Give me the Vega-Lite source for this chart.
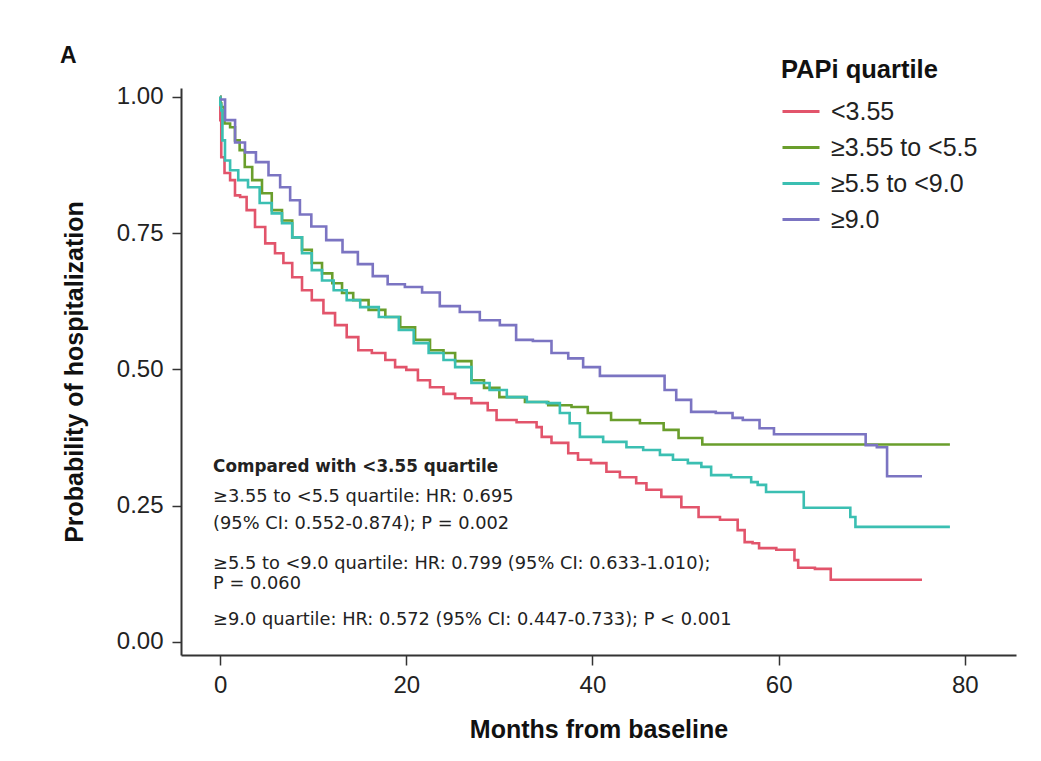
{
  "$schema": "https://vega.github.io/schema/vega-lite/v6.json",
  "autosize": {"type": "none"},
  "padding": {"left": 181, "top": 88, "right": 25, "bottom": 106},
  "width": 835,
  "height": 567,
  "background": "#ffffff",
  "config": {
    "view": {"stroke": null},
    "font": "Liberation Sans"
  },
  "title": {
    "text": "A",
    "anchor": "start",
    "frame": "group",
    "dx": -121,
    "dy": 36,
    "offset": 26,
    "fontSize": 23,
    "font": "Liberation Sans",
    "fontWeight": "bold",
    "color": "#111111"
  },
  "datasets": {
    "km": [
      {"group": "<3.55", "month": 0, "prob": 1.0},
      {"group": "<3.55", "month": 0.05, "prob": 0.957},
      {"group": "<3.55", "month": 0.2, "prob": 0.889},
      {"group": "<3.55", "month": 0.75, "prob": 0.86},
      {"group": "<3.55", "month": 1.4, "prob": 0.847},
      {"group": "<3.55", "month": 1.8, "prob": 0.819},
      {"group": "<3.55", "month": 2.5, "prob": 0.816},
      {"group": "<3.55", "month": 3.2, "prob": 0.792},
      {"group": "<3.55", "month": 4.3, "prob": 0.761},
      {"group": "<3.55", "month": 5.4, "prob": 0.731},
      {"group": "<3.55", "month": 6.4, "prob": 0.713},
      {"group": "<3.55", "month": 7.2, "prob": 0.695},
      {"group": "<3.55", "month": 8.3, "prob": 0.669},
      {"group": "<3.55", "month": 9.3, "prob": 0.645},
      {"group": "<3.55", "month": 10.4, "prob": 0.627},
      {"group": "<3.55", "month": 11.8, "prob": 0.603},
      {"group": "<3.55", "month": 12.9, "prob": 0.581},
      {"group": "<3.55", "month": 14.3, "prob": 0.559},
      {"group": "<3.55", "month": 15.4, "prob": 0.535},
      {"group": "<3.55", "month": 17.2, "prob": 0.53},
      {"group": "<3.55", "month": 18.3, "prob": 0.517},
      {"group": "<3.55", "month": 19.3, "prob": 0.504},
      {"group": "<3.55", "month": 20.7, "prob": 0.499},
      {"group": "<3.55", "month": 21.8, "prob": 0.48},
      {"group": "<3.55", "month": 23.3, "prob": 0.467},
      {"group": "<3.55", "month": 24.7, "prob": 0.455},
      {"group": "<3.55", "month": 25.8, "prob": 0.447},
      {"group": "<3.55", "month": 28.2, "prob": 0.438},
      {"group": "<3.55", "month": 29.3, "prob": 0.425},
      {"group": "<3.55", "month": 30.1, "prob": 0.407},
      {"group": "<3.55", "month": 33.6, "prob": 0.403},
      {"group": "<3.55", "month": 34.4, "prob": 0.394},
      {"group": "<3.55", "month": 34.7, "prob": 0.376},
      {"group": "<3.55", "month": 36.5, "prob": 0.365},
      {"group": "<3.55", "month": 38.3, "prob": 0.346},
      {"group": "<3.55", "month": 38.6, "prob": 0.334},
      {"group": "<3.55", "month": 41.1, "prob": 0.328},
      {"group": "<3.55", "month": 41.9, "prob": 0.312},
      {"group": "<3.55", "month": 44.0, "prob": 0.302},
      {"group": "<3.55", "month": 45.4, "prob": 0.291},
      {"group": "<3.55", "month": 46.2, "prob": 0.279},
      {"group": "<3.55", "month": 48.6, "prob": 0.266},
      {"group": "<3.55", "month": 50.5, "prob": 0.247},
      {"group": "<3.55", "month": 52.3, "prob": 0.229},
      {"group": "<3.55", "month": 55.1, "prob": 0.224},
      {"group": "<3.55", "month": 56.1, "prob": 0.205},
      {"group": "<3.55", "month": 56.6, "prob": 0.183},
      {"group": "<3.55", "month": 57.8, "prob": 0.181},
      {"group": "<3.55", "month": 58.0, "prob": 0.172},
      {"group": "<3.55", "month": 61.5, "prob": 0.169},
      {"group": "<3.55", "month": 61.9, "prob": 0.15},
      {"group": "<3.55", "month": 62.3, "prob": 0.136},
      {"group": "<3.55", "month": 65.5, "prob": 0.134},
      {"group": "<3.55", "month": 65.7, "prob": 0.114},
      {"group": "<3.55", "month": 75.4, "prob": 0.114},

      {"group": "≥3.55 to <5.5", "month": 0, "prob": 1.0},
      {"group": "≥3.55 to <5.5", "month": 0.05, "prob": 0.988},
      {"group": "≥3.55 to <5.5", "month": 0.2, "prob": 0.981},
      {"group": "≥3.55 to <5.5", "month": 0.75, "prob": 0.951},
      {"group": "≥3.55 to <5.5", "month": 1.4, "prob": 0.944},
      {"group": "≥3.55 to <5.5", "month": 1.8, "prob": 0.92},
      {"group": "≥3.55 to <5.5", "month": 2.4, "prob": 0.902},
      {"group": "≥3.55 to <5.5", "month": 2.9, "prob": 0.871},
      {"group": "≥3.55 to <5.5", "month": 4.0, "prob": 0.847},
      {"group": "≥3.55 to <5.5", "month": 5.0, "prob": 0.823},
      {"group": "≥3.55 to <5.5", "month": 6.1, "prob": 0.792},
      {"group": "≥3.55 to <5.5", "month": 7.2, "prob": 0.773},
      {"group": "≥3.55 to <5.5", "month": 8.3, "prob": 0.742},
      {"group": "≥3.55 to <5.5", "month": 9.3, "prob": 0.719},
      {"group": "≥3.55 to <5.5", "month": 10.4, "prob": 0.695},
      {"group": "≥3.55 to <5.5", "month": 11.5, "prob": 0.676},
      {"group": "≥3.55 to <5.5", "month": 12.6, "prob": 0.658},
      {"group": "≥3.55 to <5.5", "month": 13.6, "prob": 0.64},
      {"group": "≥3.55 to <5.5", "month": 15.0, "prob": 0.627},
      {"group": "≥3.55 to <5.5", "month": 16.9, "prob": 0.609},
      {"group": "≥3.55 to <5.5", "month": 18.6, "prob": 0.596},
      {"group": "≥3.55 to <5.5", "month": 20.1, "prob": 0.577},
      {"group": "≥3.55 to <5.5", "month": 21.8, "prob": 0.554},
      {"group": "≥3.55 to <5.5", "month": 23.3, "prob": 0.535},
      {"group": "≥3.55 to <5.5", "month": 24.7, "prob": 0.53},
      {"group": "≥3.55 to <5.5", "month": 25.8, "prob": 0.515},
      {"group": "≥3.55 to <5.5", "month": 28.2, "prob": 0.48},
      {"group": "≥3.55 to <5.5", "month": 28.5, "prob": 0.466},
      {"group": "≥3.55 to <5.5", "month": 31.5, "prob": 0.449},
      {"group": "≥3.55 to <5.5", "month": 34.0, "prob": 0.44},
      {"group": "≥3.55 to <5.5", "month": 36.5, "prob": 0.434},
      {"group": "≥3.55 to <5.5", "month": 39.0, "prob": 0.431},
      {"group": "≥3.55 to <5.5", "month": 40.0, "prob": 0.42},
      {"group": "≥3.55 to <5.5", "month": 44.0, "prob": 0.407},
      {"group": "≥3.55 to <5.5", "month": 46.2, "prob": 0.401},
      {"group": "≥3.55 to <5.5", "month": 49.1, "prob": 0.389},
      {"group": "≥3.55 to <5.5", "month": 49.4, "prob": 0.374},
      {"group": "≥3.55 to <5.5", "month": 51.5, "prob": 0.374},
      {"group": "≥3.55 to <5.5", "month": 52.1, "prob": 0.362},
      {"group": "≥3.55 to <5.5", "month": 78.4, "prob": 0.362},

      {"group": "≥5.5 to <9.0", "month": 0, "prob": 1.0},
      {"group": "≥5.5 to <9.0", "month": 0.05, "prob": 0.985},
      {"group": "≥5.5 to <9.0", "month": 0.2, "prob": 0.975},
      {"group": "≥5.5 to <9.0", "month": 0.3, "prob": 0.92},
      {"group": "≥5.5 to <9.0", "month": 0.75, "prob": 0.883},
      {"group": "≥5.5 to <9.0", "month": 1.4, "prob": 0.865},
      {"group": "≥5.5 to <9.0", "month": 2.5, "prob": 0.847},
      {"group": "≥5.5 to <9.0", "month": 3.5, "prob": 0.834},
      {"group": "≥5.5 to <9.0", "month": 5.0, "prob": 0.805},
      {"group": "≥5.5 to <9.0", "month": 6.1, "prob": 0.786},
      {"group": "≥5.5 to <9.0", "month": 7.2, "prob": 0.768},
      {"group": "≥5.5 to <9.0", "month": 8.3, "prob": 0.742},
      {"group": "≥5.5 to <9.0", "month": 9.3, "prob": 0.713},
      {"group": "≥5.5 to <9.0", "month": 10.4, "prob": 0.682},
      {"group": "≥5.5 to <9.0", "month": 11.5, "prob": 0.663},
      {"group": "≥5.5 to <9.0", "month": 12.9, "prob": 0.645},
      {"group": "≥5.5 to <9.0", "month": 14.3, "prob": 0.627},
      {"group": "≥5.5 to <9.0", "month": 15.8, "prob": 0.614},
      {"group": "≥5.5 to <9.0", "month": 18.3, "prob": 0.596},
      {"group": "≥5.5 to <9.0", "month": 20.1, "prob": 0.572},
      {"group": "≥5.5 to <9.0", "month": 21.5, "prob": 0.548},
      {"group": "≥5.5 to <9.0", "month": 23.3, "prob": 0.53},
      {"group": "≥5.5 to <9.0", "month": 24.7, "prob": 0.517},
      {"group": "≥5.5 to <9.0", "month": 25.8, "prob": 0.504},
      {"group": "≥5.5 to <9.0", "month": 28.2, "prob": 0.475},
      {"group": "≥5.5 to <9.0", "month": 29.7, "prob": 0.462},
      {"group": "≥5.5 to <9.0", "month": 31.9, "prob": 0.449},
      {"group": "≥5.5 to <9.0", "month": 34.0, "prob": 0.44},
      {"group": "≥5.5 to <9.0", "month": 36.2, "prob": 0.438},
      {"group": "≥5.5 to <9.0", "month": 36.8, "prob": 0.42},
      {"group": "≥5.5 to <9.0", "month": 38.3, "prob": 0.401},
      {"group": "≥5.5 to <9.0", "month": 39.0, "prob": 0.376},
      {"group": "≥5.5 to <9.0", "month": 43.3, "prob": 0.367},
      {"group": "≥5.5 to <9.0", "month": 44.0, "prob": 0.357},
      {"group": "≥5.5 to <9.0", "month": 46.9, "prob": 0.352},
      {"group": "≥5.5 to <9.0", "month": 47.6, "prob": 0.343},
      {"group": "≥5.5 to <9.0", "month": 49.7, "prob": 0.334},
      {"group": "≥5.5 to <9.0", "month": 50.8, "prob": 0.328},
      {"group": "≥5.5 to <9.0", "month": 52.6, "prob": 0.321},
      {"group": "≥5.5 to <9.0", "month": 52.9, "prob": 0.306},
      {"group": "≥5.5 to <9.0", "month": 56.9, "prob": 0.302},
      {"group": "≥5.5 to <9.0", "month": 57.2, "prob": 0.293},
      {"group": "≥5.5 to <9.0", "month": 58.3, "prob": 0.288},
      {"group": "≥5.5 to <9.0", "month": 59.0, "prob": 0.275},
      {"group": "≥5.5 to <9.0", "month": 62.6, "prob": 0.275},
      {"group": "≥5.5 to <9.0", "month": 62.8, "prob": 0.246},
      {"group": "≥5.5 to <9.0", "month": 67.4, "prob": 0.246},
      {"group": "≥5.5 to <9.0", "month": 68.0, "prob": 0.229},
      {"group": "≥5.5 to <9.0", "month": 68.5, "prob": 0.211},
      {"group": "≥5.5 to <9.0", "month": 78.4, "prob": 0.211},

      {"group": "≥9.0", "month": 0, "prob": 0.995},
      {"group": "≥9.0", "month": 1.07, "prob": 0.957},
      {"group": "≥9.0", "month": 2.15, "prob": 0.916},
      {"group": "≥9.0", "month": 3.2, "prob": 0.898},
      {"group": "≥9.0", "month": 4.5, "prob": 0.88},
      {"group": "≥9.0", "month": 5.9, "prob": 0.856},
      {"group": "≥9.0", "month": 7.0, "prob": 0.834},
      {"group": "≥9.0", "month": 8.05, "prob": 0.81},
      {"group": "≥9.0", "month": 9.1, "prob": 0.784},
      {"group": "≥9.0", "month": 10.5, "prob": 0.762},
      {"group": "≥9.0", "month": 12.3, "prob": 0.737},
      {"group": "≥9.0", "month": 14.0, "prob": 0.715},
      {"group": "≥9.0", "month": 15.6, "prob": 0.693},
      {"group": "≥9.0", "month": 17.2, "prob": 0.671},
      {"group": "≥9.0", "month": 18.8, "prob": 0.656},
      {"group": "≥9.0", "month": 20.9, "prob": 0.651},
      {"group": "≥9.0", "month": 22.5, "prob": 0.641},
      {"group": "≥9.0", "month": 24.7, "prob": 0.616},
      {"group": "≥9.0", "month": 26.8, "prob": 0.605},
      {"group": "≥9.0", "month": 29.0, "prob": 0.59},
      {"group": "≥9.0", "month": 31.1, "prob": 0.581},
      {"group": "≥9.0", "month": 32.5, "prob": 0.554},
      {"group": "≥9.0", "month": 34.7, "prob": 0.552},
      {"group": "≥9.0", "month": 36.5, "prob": 0.53},
      {"group": "≥9.0", "month": 38.3, "prob": 0.52},
      {"group": "≥9.0", "month": 39.7, "prob": 0.504},
      {"group": "≥9.0", "month": 41.9, "prob": 0.488},
      {"group": "≥9.0", "month": 47.2, "prob": 0.488},
      {"group": "≥9.0", "month": 48.3, "prob": 0.462},
      {"group": "≥9.0", "month": 49.7, "prob": 0.444},
      {"group": "≥9.0", "month": 51.5, "prob": 0.422},
      {"group": "≥9.0", "month": 55.0, "prob": 0.42},
      {"group": "≥9.0", "month": 55.1, "prob": 0.411},
      {"group": "≥9.0", "month": 57.2, "prob": 0.407},
      {"group": "≥9.0", "month": 58.7, "prob": 0.392},
      {"group": "≥9.0", "month": 60.3, "prob": 0.381},
      {"group": "≥9.0", "month": 69.2, "prob": 0.381},
      {"group": "≥9.0", "month": 69.5, "prob": 0.361},
      {"group": "≥9.0", "month": 71.6, "prob": 0.357},
      {"group": "≥9.0", "month": 71.7, "prob": 0.304},
      {"group": "≥9.0", "month": 75.4, "prob": 0.304}
    ],
    "notes": [
      {"text": "Compared with <3.55 quartile", "month": -0.75, "prob": 0.321, "bold": true},
      {"text": "≥3.55 to <5.5 quartile: HR: 0.695", "month": -0.75, "prob": 0.266, "bold": false},
      {"text": "(95% CI: 0.552-0.874); P = 0.002", "month": -0.75, "prob": 0.216, "bold": false},
      {"text": "≥5.5 to <9.0 quartile: HR: 0.799 (95% CI: 0.633-1.010);", "month": -0.75, "prob": 0.143, "bold": false},
      {"text": "P = 0.060", "month": -0.75, "prob": 0.106, "bold": false},
      {"text": "≥9.0 quartile: HR: 0.572 (95% CI: 0.447-0.733); P < 0.001", "month": -0.75, "prob": 0.04, "bold": false}
    ]
  },
  "layer": [
    {
      "data": {"name": "km"},
      "mark": {"type": "line", "interpolate": "step", "strokeWidth": 2.6},
      "encoding": {
        "x": {
          "field": "month", "type": "quantitative",
          "scale": {"domain": [-4.2, 85.5], "nice": false, "zero": false},
          "axis": {
            "values": [0, 20, 40, 60, 80],
            "title": "Months from baseline",
            "grid": false,
            "domainColor": "#333333", "domainWidth": 2,
            "tickColor": "#333333", "tickWidth": 1.5, "tickSize": 10,
            "labelFont": "Liberation Sans", "labelFontSize": 24, "labelColor": "#222222", "labelPadding": 8,
            "titleFont": "Liberation Sans", "titleFontSize": 25, "titleFontWeight": "bold", "titleColor": "#111111", "titlePadding": 20
          }
        },
        "y": {
          "field": "prob", "type": "quantitative",
          "scale": {"domain": [-0.024, 1.016], "nice": false, "zero": false},
          "axis": {
            "values": [0, 0.25, 0.5, 0.75, 1],
            "format": ".2f",
            "title": "Probability of hospitalization",
            "grid": false,
            "domainColor": "#333333", "domainWidth": 2,
            "tickColor": "#333333", "tickWidth": 1.5, "tickSize": 9,
            "labelFont": "Liberation Sans", "labelFontSize": 24, "labelColor": "#222222", "labelPadding": 9,
            "titleFont": "Liberation Sans", "titleFontSize": 25, "titleFontWeight": "bold", "titleColor": "#111111", "titlePadding": 29
          }
        },
        "color": {
          "field": "group", "type": "nominal",
          "sort": ["<3.55", "≥3.55 to <5.5", "≥5.5 to <9.0", "≥9.0"],
          "scale": {
            "domain": ["<3.55", "≥3.55 to <5.5", "≥5.5 to <9.0", "≥9.0"],
            "range": ["#e2546b", "#6a9e2c", "#3bbfb2", "#7b74c2"]
          },
          "legend": {
            "title": "PAPi quartile",
            "orient": "none",
            "legendX": 600,
            "legendY": -30,
            "titleFont": "Liberation Sans", "titleFontSize": 25.5, "titleFontWeight": "bold", "titleColor": "#111111", "titlePadding": 8,
            "labelFont": "Liberation Sans", "labelFontSize": 25, "labelColor": "#222222", "labelOffset": 10,
            "symbolType": "stroke", "symbolSize": 1369, "symbolStrokeWidth": 3,
            "rowPadding": 3
          }
        }
      }
    },
    {
      "data": {"name": "notes"},
      "transform": [{"filter": "datum.bold"}],
      "mark": {"type": "text", "align": "left", "baseline": "middle", "font": "DejaVu Sans", "fontSize": 16.8, "fontWeight": "bold", "color": "#222222"},
      "encoding": {
        "x": {"field": "month", "type": "quantitative"},
        "y": {"field": "prob", "type": "quantitative"},
        "text": {"field": "text"}
      }
    },
    {
      "data": {"name": "notes"},
      "transform": [{"filter": "!datum.bold"}],
      "mark": {"type": "text", "align": "left", "baseline": "middle", "font": "DejaVu Sans", "fontSize": 17.8, "color": "#222222"},
      "encoding": {
        "x": {"field": "month", "type": "quantitative"},
        "y": {"field": "prob", "type": "quantitative"},
        "text": {"field": "text"}
      }
    }
  ]
}
